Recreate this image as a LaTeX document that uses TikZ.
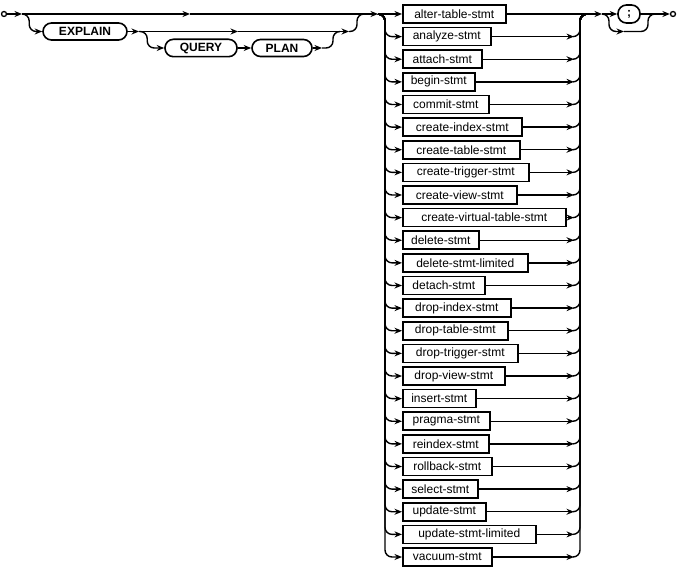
\documentclass[tikz,border=0pt]{standalone}
\usepackage{fontspec}
\setmainfont{Liberation Sans}
\usetikzlibrary{arrows.meta, positioning, calc}

\begin{document}
\begin{tikzpicture}[
    x=1pt, y=-1pt,
    every node/.style={font=\fontsize{12}{14}\selectfont},
    kw/.style={rectangle, rounded corners=8.5pt, draw, line width=1.6pt,
               minimum height=17pt, inner xsep=0pt,
               font=\fontsize{12}{14}\selectfont\bfseries},
    nt/.style={rectangle, draw, line width=1.6pt, minimum height=18pt,
               inner xsep=0pt, anchor=west},
    term/.style={circle, draw, line width=1.3pt, inner sep=0pt, minimum size=5pt},
    ln/.style={line width=1.4pt},
    arr/.style={ln, -{Stealth[length=7.5pt, width=6pt]}},
    rc/.style={ln, rounded corners=7pt},
    rca/.style={arr, rounded corners=7pt},
]
\useasboundingbox (0,0) rectangle (677,569);

% ================================================================ explain prefix
\node[term] (st) at (4,14) {};
\coordinate (s1) at (22,14);
\coordinate (m1) at (190,14);
\coordinate (j1) at (364,14);
\coordinate (s3) at (378,14);
\draw[arr] (st) -- (s1);
\draw[arr] (s1) -- (m1);
\draw[ln] (m1) -- (j1);

\node[kw, minimum width=84pt] (explain) at (85,31.5) {EXPLAIN};
\draw[rca] (s1) -| ($(explain.west)+(-13,0)$) -- (explain.west);
\coordinate (s2) at (139,31.5);
\coordinate (m2) at (238,31.5);
\coordinate (jq) at (340,31.5);
\coordinate (j2) at (349,31.5);
\draw[arr] (explain) -- (s2);
\draw[arr] (s2) -- (m2);
\draw[arr] (m2) -- (j2);
\draw[rc] (j2) -| ($(j1)+(-7,0)$) -- (j1);

\node[kw, minimum width=72pt] (query) at (201,48) {QUERY};
\node[kw, minimum width=60pt] (plan) at (282,48) {PLAN};
\coordinate (p1) at (322,48);
\draw[rca] (s2) -| ($(query.west)+(-17,0)$) -- (query.west);
\draw[arr] (query) -- (plan);
\draw[arr] (plan) -- (p1);
\draw[rc] (p1) -| ($(jq)+(-7,0)$) -- (jq);
\draw[arr] (j1) -- (s3);

% ================================================================ statements
\foreach \n/\w [count=\i from 0] in {alter-table-stmt/103, analyze-stmt/88,
    attach-stmt/79, begin-stmt/72, commit-stmt/86, create-index-stmt/119,
    create-table-stmt/117, create-trigger-stmt/126, create-view-stmt/114,
    create-virtual-table-stmt/163, delete-stmt/76, delete-stmt-limited/125,
    detach-stmt/82, drop-index-stmt/108, drop-table-stmt/105,
    drop-trigger-stmt/115, drop-view-stmt/102, insert-stmt/73,
    pragma-stmt/87, reindex-stmt/86, rollback-stmt/89, select-stmt/75,
    update-stmt/83, update-stmt-limited/133, vacuum-stmt/89}{
  \node[nt, minimum width=\w pt] (b\i) at (402,{14+22.625*\i}) {\n};
}

\coordinate (lr) at (385,14);
\coordinate (rr) at (580,14);
\coordinate (s4) at (588,14);
\coordinate (s5) at (602,14);
\draw[arr] (s3) -- (b0);
\draw[arr] (b0) -- (s5);
\foreach \i in {1,...,24}{
  \draw[rca] (s3) -| (lr |- b\i.west) -- (b\i.west);
  \draw[arr] (b\i) -- ($(rr |- b\i.east)+(-6,0)$);
  \draw[rc] ($(rr |- b\i.east)+(-7,0)$) -| (rr) -- (s4);
}

% ================================================================ semicolon
\node[kw, minimum width=22pt, minimum height=18pt] (semi) at (629,14) {;};
\node[term] (en) at (673,14) {};
\coordinate (m5) at (624,31.5);
\coordinate (j5) at (655,14);
\draw[arr] (s5) -- (semi);
\draw[rca] (s5) -| ($(m5)+(-15,0)$) -- (m5);
\draw[rc] (m5) -| ($(j5)+(-7,0)$) -- (j5);
\draw[arr] (semi) -- (en);
\end{tikzpicture}
\end{document}
